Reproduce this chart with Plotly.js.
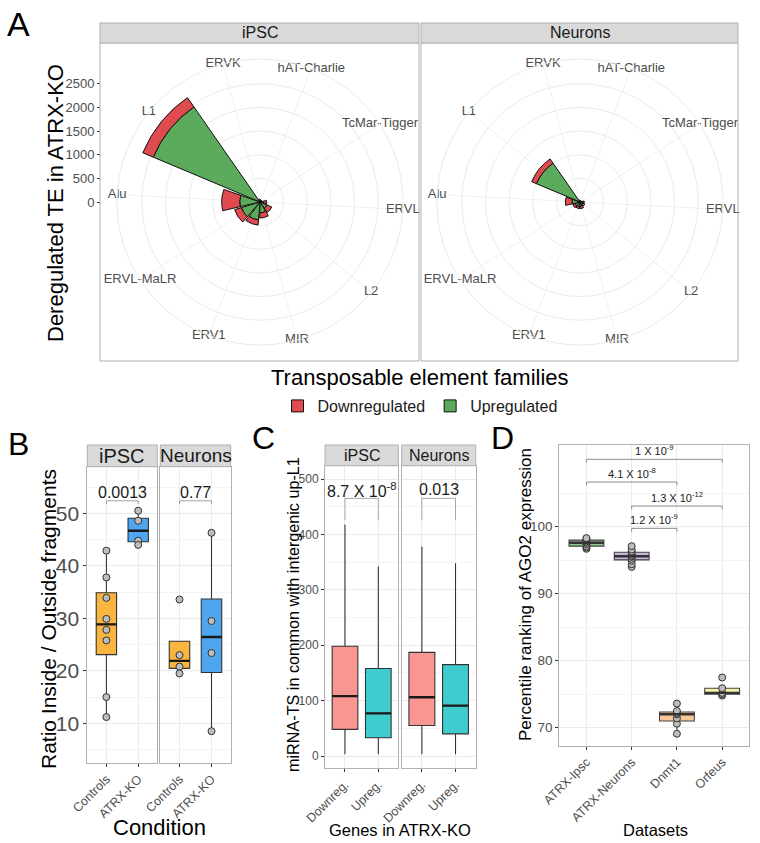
<!DOCTYPE html>
<html><head><meta charset="utf-8">
<script src="https://cdn.plot.ly/plotly-3.0.1.min.js"></script>
<style>html,body{margin:0;padding:0;background:#fff}#chart{width:760px;height:843px}</style>
</head><body><div id="chart"></div>
<script>
// ================= DATA =================
// Panel A : deregulated TE counts per family
const teFamilies = ['ERVK','hAT-Charlie','TcMar-Tigger','ERVL','L2','MIR','ERV1','ERVL-MaLR','Alu','L1'];
const ipscUp   = [40, 30, 25, 80, 160, 230, 380, 410, 430, 2450];
const ipscDown = [20, 15, 15, 60, 110, 110, 110, 150, 380, 240];
const neurUp   = [30, 20, 20, 60, 70, 90, 100, 110, 170, 1000];
const neurDown = [10, 10, 10, 30, 40, 50, 40, 50, 140, 110];
const radialTicks = [0, 500, 1000, 1500, 2000, 2500];

// Panel B : ratio inside / outside fragments
const conditions = ['Controls', 'ATRX-KO'];
const ipscControls = [42.9, 37.8, 33.9, 29.9, 27.8, 25.8, 15.0, 11.2];
const ipscKO       = [50.5, 48.6, 44.8, 44.0];
const neurControls = [33.6, 23.0, 20.8, 19.5];
const neurKO       = [46.3, 29.5, 23.4, 8.5];
const pB = ['0.0013', '0.77'];
const pBBracket = [52.4, 52.4];
const pBLabelY = [54.0, 54.0];

// Panel C : miRNA-TS in common (box statistics)
const geneGroups = ['Downreg.', 'Upreg.'];
const cIpscLow = [3, 3],  cIpscQ1 = [48, 33], cIpscMed = [108, 77], cIpscQ3 = [198, 158], cIpscHigh = [418, 342];
const cNeurLow = [3, 3],  cNeurQ1 = [55, 40], cNeurMed = [106, 91], cNeurQ3 = [187, 165], cNeurHigh = [378, 348];
const pC = ['8.7 X 10<sup>-8</sup>', '0.013'];
const pCBracket = [465, 465];
const pCBracketEnd = [426, 426];
const pCLabelY = [481, 481];

// Panel D : percentile ranking of AGO2 expression
const datasets = ['ATRX-Ipsc', 'ATRX-Neurons', 'Dnmt1', 'Orfeus'];
const dAtrxIpsc    = [96.7, 96.9, 97.1, 97.4, 97.6, 97.8, 98.0, 98.2, 98.3];
const dAtrxNeurons = [94.0, 94.4, 94.9, 95.2, 95.5, 95.6, 95.8, 96.1, 96.3, 96.6, 97.1];
const dDnmt1       = [69.1, 70.6, 71.4, 72.0, 72.2, 72.5, 73.6];
const dOrfeus      = [74.8, 75.0, 75.2, 75.9, 77.5];
const cmpFrom  = ['ATRX-Ipsc', 'ATRX-Ipsc', 'ATRX-Neurons', 'ATRX-Neurons'];
const cmpTo    = ['Orfeus', 'Dnmt1', 'Orfeus', 'Dnmt1'];
const cmpLevel = [110.06, 106.67, 103.09, 99.76];
const cmpLabel = ['1 X 10<sup>-9</sup>', '4.1 X 10<sup>-8</sup>', '1.3 X 10<sup>-12</sup>', '1.2 X 10<sup>-9</sup>'];

// ================= HELPERS =================
const W = 760, H = 843;
const px = v => v / W;
const py = v => 1 - v / H;
const FONT = 'Liberation Sans, Arial, Helvetica, sans-serif';
const GRID = '#EBEBEB', MINOR = '#F4F4F4', FRAME = '#B0B0B0', TICKC = '#4D4D4D', TICKMARK = '#333333';
const RED = '#E04B4F', GREEN = '#5CAA5C';

function q7(arr, p) {
  const s = [...arr].sort((a, b) => a - b);
  const h = (s.length - 1) * p, lo = Math.floor(h), hi = Math.min(lo + 1, s.length - 1);
  return s[lo] + (h - lo) * (s[hi] - s[lo]);
}
function boxStats(arr) {
  const q1 = q7(arr, .25), med = q7(arr, .5), q3 = q7(arr, .75), iqr = q3 - q1;
  const inside = arr.filter(v => v >= q1 - 1.5 * iqr && v <= q3 + 1.5 * iqr);
  return {q1, med, q3, lo: Math.min(...inside), hi: Math.max(...inside)};
}

const traces = [];
const shapes = [];
const annotations = [];

// ================= PANEL A =================
const RMAX = 3026; // outer circle of the polar panel (label ring)
function addPolar(subplot, up, down, legend) {
  traces.push({type: 'barpolar', subplot, name: 'Upregulated', r: up, theta: teFamilies,
    marker: {color: GREEN, line: {color: '#111', width: 1}}, showlegend: legend, legendgroup: 'up', hoverinfo: 'skip'});
  traces.push({type: 'barpolar', subplot, name: 'Downregulated', r: down, theta: teFamilies,
    marker: {color: RED, line: {color: '#111', width: 1}}, showlegend: legend, legendgroup: 'down', hoverinfo: 'skip'});
  traces.push({type: 'scatterpolar', subplot, mode: 'text', r: teFamilies.map(() => RMAX), theta: teFamilies,
    text: teFamilies, textfont: {family: FONT, size: 13, color: TICKC}, cliponaxis: false,
    showlegend: false, hoverinfo: 'skip'});
}
addPolar('polar', ipscUp, ipscDown, true);
addPolar('polar2', neurUp, neurDown, false);
// invisible trace to host the radial tick axis
traces.push({type: 'scatter', x: [null], y: [null], xaxis: 'x', yaxis: 'y', showlegend: false, hoverinfo: 'skip'});

function polarLayout(cx, cy, r) {
  return {
    domain: {x: [px(cx - r), px(cx + r)], y: [py(cy + r), py(cy - r)]},
    bgcolor: 'rgba(0,0,0,0)', barmode: 'stack', bargap: 0.1,
    radialaxis: {range: [0, RMAX], tickvals: radialTicks.slice(1), showticklabels: false, ticks: '',
      showline: false, gridcolor: GRID, gridwidth: 1},
    angularaxis: {type: 'category', categoryorder: 'array', categoryarray: teFamilies,
      rotation: 105, direction: 'clockwise', showticklabels: false, ticks: '',
      gridcolor: '#F0F0F0', showline: true, linecolor: GRID, linewidth: 1}
  };
}

// frames & strips (A)
function frame(x0, y0, x1, y1) {
  shapes.push({type: 'rect', xref: 'paper', yref: 'paper', x0: px(x0), x1: px(x1), y0: py(y1), y1: py(y0),
    line: {color: FRAME, width: 1}, fillcolor: 'rgba(0,0,0,0)', layer: 'above'});
}
function strip(x0, y0, x1, y1, text, size) {
  shapes.push({type: 'rect', xref: 'paper', yref: 'paper', x0: px(x0), x1: px(x1), y0: py(y1), y1: py(y0),
    line: {color: FRAME, width: 1}, fillcolor: '#D9D9D9', layer: 'above'});
  annotations.push({xref: 'paper', yref: 'paper', x: px((x0 + x1) / 2), y: py((y0 + y1) / 2), text,
    showarrow: false, xanchor: 'center', yanchor: 'middle', font: {family: FONT, size, color: '#1A1A1A'}});
}
frame(100, 43, 419, 361); strip(100, 23, 419, 43, 'iPSC', 16);
frame(421, 43, 738, 361); strip(421, 23, 738, 43, 'Neurons', 16);

// ================= PANEL B =================
function pointsTrace(xa, ya, cat, vals) {
  return {type: 'scatter', mode: 'markers', xaxis: xa, yaxis: ya, x: vals.map(() => cat), y: vals,
    marker: {size: 7, color: '#BDBDBD', line: {color: '#333', width: 1}}, cliponaxis: false,
    showlegend: false, hoverinfo: 'skip'};
}
function statBox(xa, ya, cat, st, fill, width, lc) {
  traces.push({type: 'box', xaxis: xa, yaxis: ya, x: [cat], q1: [st.q1], median: [st.med], q3: [st.q3],
    lowerfence: [st.lo], upperfence: [st.hi], fillcolor: fill, line: {color: lc || '#333', width: 1.1},
    whiskerwidth: 0, width, showlegend: false, hoverinfo: 'skip'});
}
function medianLine(xref, yref, idx, med, width, lc) {
  shapes.push({type: 'line', xref, yref, x0: idx - width / 2, x1: idx + width / 2, y0: med, y1: med,
    line: {color: lc || '#1A1A1A', width: 2.4}, layer: 'above'});
}
function bracket(xa, ya, from, to, top, bottom, color) {
  traces.push({type: 'scatter', mode: 'lines', xaxis: xa, yaxis: ya, x: [from, from, to, to],
    y: [bottom, top, top, bottom], line: {color, width: 1}, cliponaxis: false, showlegend: false, hoverinfo: 'skip'});
}

const bColors = ['#F9B53D', '#4FA6F0'];
const bW = 0.64;
const bGroups = [
  {xa: 'x2', ya: 'y2', data: [ipscControls, ipscKO]},
  {xa: 'x3', ya: 'y3', data: [neurControls, neurKO]}
];
bGroups.forEach((g, gi) => {
  g.data.forEach((vals, i) => {
    const st = boxStats(vals);
    statBox(g.xa, g.ya, conditions[i], st, bColors[i], bW);
    medianLine(g.xa, g.ya, i, st.med, bW);
    traces.push(pointsTrace(g.xa, g.ya, conditions[i], vals));
  });
  bracket(g.xa, g.ya, conditions[0], conditions[1], pBBracket[gi], pBBracket[gi] - 0.6, '#A0A0A0');
  annotations.push({xref: g.xa, yref: g.ya, x: 0.5, y: pBLabelY[gi], text: pB[gi], showarrow: false,
    xanchor: 'center', yanchor: 'middle', font: {family: FONT, size: 16, color: '#1A1A1A'}});
});
strip(87.3, 445, 157.3, 466.7, 'iPSC', 20);
strip(160.3, 445, 230.7, 466.7, 'Neurons', 19);

// ================= PANEL C =================
const cColors = ['#F8968F', '#3FCCCF'];
const cW = 0.77;
const cGroups = [
  {xa: 'x4', ya: 'y4', lo: cIpscLow, q1: cIpscQ1, med: cIpscMed, q3: cIpscQ3, hi: cIpscHigh},
  {xa: 'x5', ya: 'y5', lo: cNeurLow, q1: cNeurQ1, med: cNeurMed, q3: cNeurQ3, hi: cNeurHigh}
];
cGroups.forEach((g, gi) => {
  geneGroups.forEach((cat, i) => {
    const st = {q1: g.q1[i], med: g.med[i], q3: g.q3[i], lo: g.lo[i], hi: g.hi[i]};
    statBox(g.xa, g.ya, cat, st, cColors[i], cW);
    medianLine(g.xa, g.ya, i, st.med, cW);
  });
  bracket(g.xa, g.ya, geneGroups[0], geneGroups[1], pCBracket[gi], pCBracketEnd[gi], '#A8A8A8');
  annotations.push({xref: g.xa, yref: g.ya, x: 0.5, y: pCLabelY[gi], text: pC[gi], showarrow: false,
    xanchor: 'center', yanchor: 'middle', font: {family: FONT, size: 16, color: '#1A1A1A'}});
});
strip(325, 445, 398.3, 465.7, 'iPSC', 16);
strip(401.7, 445, 475.7, 465.7, 'Neurons', 16);

// ================= PANEL D =================
const dColors = ['#8EC78A', '#C7B6DC', '#F9C796', '#F6F2A3'];
const dW = 0.77;
[dAtrxIpsc, dAtrxNeurons, dDnmt1, dOrfeus].forEach((vals, i) => {
  const st = boxStats(vals);
  statBox('x6', 'y6', datasets[i], st, dColors[i], dW, '#444');
  medianLine('x6', 'y6', i, st.med, dW, '#333');
  traces.push(pointsTrace('x6', 'y6', datasets[i], vals));
});
cmpFrom.forEach((f, i) => {
  bracket('x6', 'y6', f, cmpTo[i], cmpLevel[i], cmpLevel[i] - 0.5, '#8C8C8C');
  const mid = (datasets.indexOf(f) + datasets.indexOf(cmpTo[i])) / 2;
  annotations.push({xref: 'x6', yref: 'y6', x: mid, y: cmpLevel[i], text: cmpLabel[i], showarrow: false,
    xanchor: 'center', yanchor: 'bottom', font: {family: FONT, size: 11, color: '#1A1A1A'}});
});

// ================= TITLES / LABELS =================
function label(x, y, text, size, angle, color) {
  annotations.push({xref: 'paper', yref: 'paper', x: px(x), y: py(y), text, showarrow: false,
    xanchor: 'center', yanchor: 'middle', textangle: angle || 0, font: {family: FONT, size, color: color || '#000'}});
}
label(18, 24, 'A', 34); label(18, 444, 'B', 32); label(263, 438, 'C', 32); label(502, 438, 'D', 32);
label(55, 203, 'Deregulated TE in ATRX-KO', 22, -90);
label(420, 377, 'Transposable element families', 22);
label(48, 619, 'Ratio Inside / Outside fragments', 21, -90);
label(159, 827, 'Condition', 22);
label(293, 615, 'miRNA-TS in common with intergenic up-L1', 16.2, -90);
label(400, 830, 'Genes in ATRX-KO', 16.5);
label(525, 595, 'Percentile ranking of AGO2 expression', 17, -90);
label(655, 830, 'Datasets', 16.5);

// ================= AXES =================
function catAxis(x0, x1, anchor, cats, showLabels, fontSize) {
  return {domain: [px(x0), px(x1)], anchor, type: 'category', categoryorder: 'array', categoryarray: cats,
    range: [-0.6, cats.length - 0.4], showgrid: true, gridcolor: GRID, gridwidth: 1, zeroline: false,
    showline: true, mirror: true, linecolor: FRAME, linewidth: 1,
    ticks: 'outside', ticklen: 3, tickcolor: TICKMARK, tickangle: -45, showticklabels: showLabels,
    tickfont: {family: FONT, size: fontSize, color: TICKC}, fixedrange: true};
}
function valAxis(y0, y1, anchor, range, tickvals, minorvals, showLabels, fontSize) {
  return {domain: [py(y1), py(y0)], anchor, range, tickvals, showgrid: true, gridcolor: GRID, gridwidth: 1,
    minor: {tickvals: minorvals, showgrid: true, gridcolor: MINOR, ticks: ''},
    zeroline: false, showline: true, mirror: true, linecolor: FRAME, linewidth: 1,
    ticks: showLabels ? 'outside' : '', ticklen: 3, tickcolor: TICKMARK, showticklabels: showLabels,
    tickfont: {family: FONT, size: fontSize, color: TICKC}, fixedrange: true};
}

const layout = {
  width: W, height: H, margin: {l: 0, r: 0, t: 0, b: 0, pad: 0, autoexpand: false},
  paper_bgcolor: '#fff', plot_bgcolor: '#fff', font: {family: FONT},
  polar: polarLayout(260, 202, 143),
  polar2: polarLayout(580, 202, 143),
  xaxis: {domain: [0, 0.01], anchor: 'y', visible: false, range: [0, 1]},
  yaxis: {domain: [py(202), py(59)], anchor: 'free', position: px(100), side: 'left', range: [0, RMAX],
    tickvals: radialTicks, showgrid: false, zeroline: false, showline: false, ticks: 'outside', ticklen: 3,
    tickcolor: TICKMARK, tickfont: {family: FONT, size: 13, color: TICKC}, fixedrange: true},
  xaxis2: catAxis(87.3, 157.3, 'y2', conditions, true, 12.5),
  yaxis2: valAxis(466.7, 763, 'x2', [2.44, 58.9], [10, 20, 30, 40, 50], [5, 15, 25, 35, 45, 55], true, 21),
  xaxis3: catAxis(160.3, 230.7, 'y3', conditions, true, 12.5),
  yaxis3: valAxis(466.7, 763, 'x3', [2.44, 58.9], [10, 20, 30, 40, 50], [5, 15, 25, 35, 45, 55], false, 21),
  xaxis4: catAxis(325, 398.3, 'y4', geneGroups, true, 12.5),
  yaxis4: valAxis(465.7, 768.3, 'x4', [-22.2, 524], [0, 100, 200, 300, 400, 500], [50, 150, 250, 350, 450], true, 12),
  xaxis5: catAxis(401.7, 475.7, 'y5', geneGroups, true, 12.5),
  yaxis5: valAxis(465.7, 768.3, 'x5', [-22.2, 524], [0, 100, 200, 300, 400, 500], [50, 150, 250, 350, 450], false, 12),
  xaxis6: catAxis(559.3, 749.3, 'y6', datasets, true, 12.5),
  yaxis6: valAxis(445, 746, 'x6', [67.27, 112.2], [70, 80, 90, 100], [75, 85, 95, 105], true, 13.5),
  boxmode: 'overlay',
  showlegend: true,
  legend: {orientation: 'h', x: px(420), y: py(406), xanchor: 'center', yanchor: 'middle', traceorder: 'reversed',
    font: {family: FONT, size: 16, color: '#1A1A1A'}, bgcolor: 'rgba(0,0,0,0)', itemclick: false, itemdoubleclick: false},
  shapes, annotations
};

Plotly.newPlot('chart', traces, layout, {staticPlot: true, displayModeBar: false});
</script>
</body></html>
